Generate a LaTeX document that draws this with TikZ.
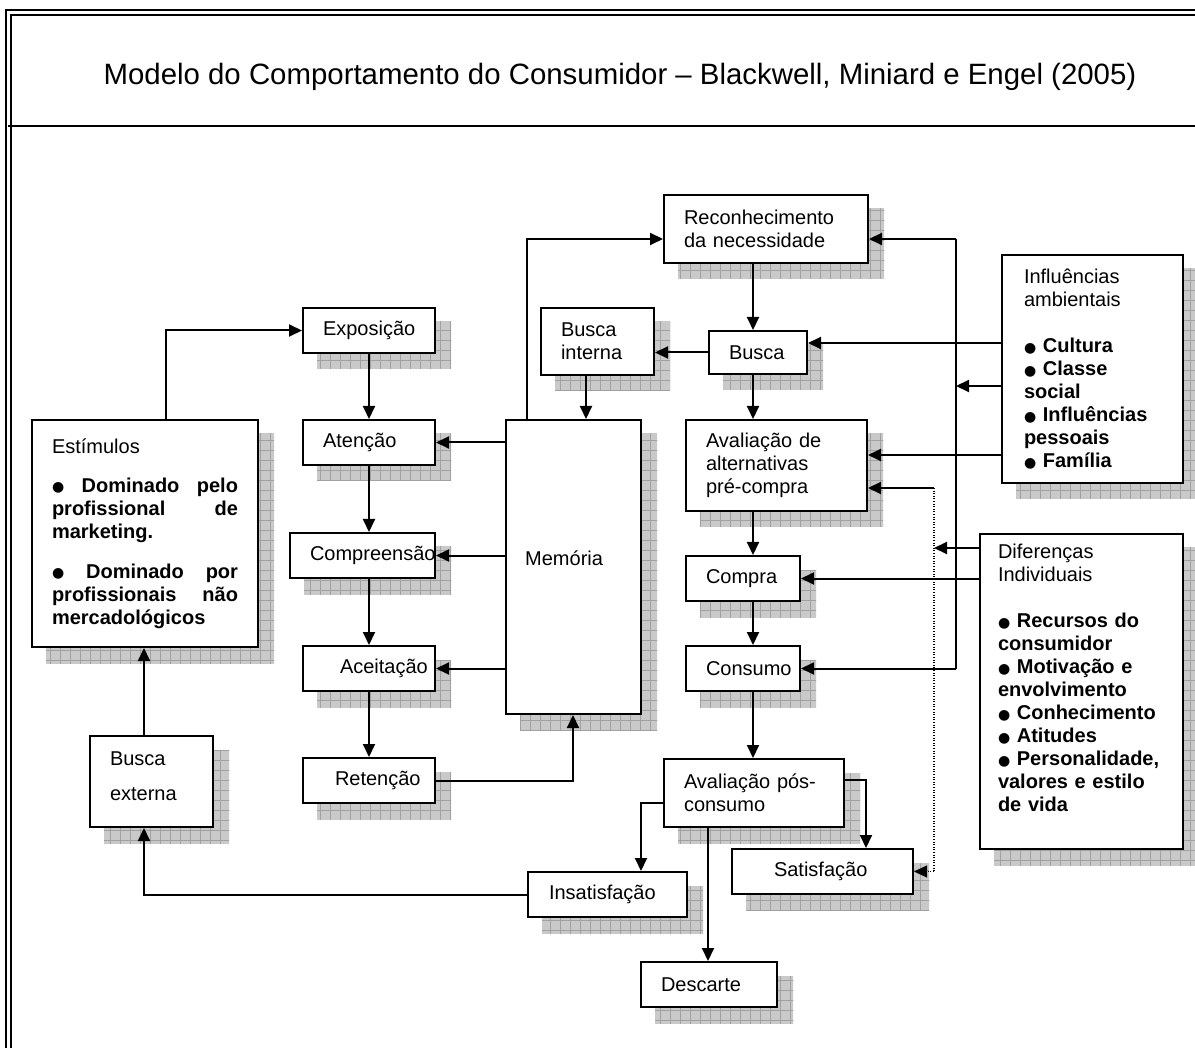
\documentclass[tikz,border=0pt]{standalone}
\usepackage{fontspec}
\setmainfont{Liberation Sans}
\newfontfamily\bulletfont{DejaVu Sans}
\usetikzlibrary{arrows.meta,backgrounds}
\definecolor{shadefill}{gray}{0.79}
\definecolor{shadeline}{gray}{0.63}
\newcommand{\blt}{{\bulletfont\fontsize{14}{14}\selectfont\raisebox{0.4pt}{●}}}

\tikzset{
  boxbase/.style={draw, fill=white, line width=2pt, anchor=north west,
    inner ysep=0pt, align=left, font=\fontsize{20}{23}\selectfont},
  % box={width}{height}{left indent}
  box/.code n args={3}{%
    \pgfmathsetmacro\bxw{#1-2*#3}%
    \edef\bxopts{text width=\bxw pt, minimum height=#2pt, inner xsep=#3pt}%
    \tikzset{boxbase}%
    \expandafter\tikzset\expandafter{\bxopts}},
  txt/.style={inner sep=0pt, font=\fontsize{20}{23}\selectfont},
  line/.style={line width=2pt},
  arr/.style={line width=2pt, -{Triangle[length=13pt,width=12pt]}},
  dotline/.style={line width=1.1pt, dash pattern=on 1pt off 1.6pt},
  frame/.style={line width=1.9pt}
}

\begin{document}
\begin{tikzpicture}[x=1pt,y=-1pt]
\useasboundingbox (0,0) rectangle (1195,1048);
\clip (0,0) rectangle (1195,1048);

% double frame and title band
\draw[frame] (6,10) rectangle (1230,1080);
\draw[frame] (11,15) rectangle (1225,1075);
\draw[frame] (8,126) -- (1230,126);
\node[anchor=base, inner sep=0pt, font=\fontsize{29.4}{34}\selectfont] (title) at (620,85)
  {Modelo do Comportamento do Consumidor – Blackwell, Miniard e Engel (2005)};

% boxes
\node[box={204}{68}{20}] (rec) at (663,194) {Reconhecimento\\da necessidade};
\node[box={132}{45}{20}] (exp) at (302,307) {Exposição};
\node[box={113}{67}{20}] (bint) at (540,307) {Busca\\interna};
\node[box={98}{43}{20}] (busca) at (708,330) {Busca};
\node[box={132}{45}{20}] (aten) at (302,419) {Atenção};
\node[box={135}{294}{20}] (mem) at (505,419) {};
\node[txt, anchor=west] (memtxt) at (525,558) {Memória};
\node[box={181}{91}{20}] (aval) at (685,419) {Avaliação de\\alternativas\\pré-compra};
\node[box={145}{45}{20}] (comp) at (289,532) {Compreensão};
\node[box={114}{45}{20}] (compra) at (685,555) {Compra};
\node[box={132}{45}{37}] (acei) at (302,645) {Aceitação};
\node[box={114}{45}{20}] (cons) at (685,645) {Consumo};
\node[box={132}{45}{32}] (ret) at (302,757) {Retenção};
\node[box={180}{68}{20}] (apos) at (663,758) {Avaliação pós-\\consumo};
\node[box={181}{45}{42}] (sat) at (731,848) {Satisfação};
\node[box={159}{45}{21}] (insat) at (527,871) {Insatisfação};
\node[box={136}{45}{20}] (desc) at (640,961) {Descarte};
\node[box={226}{227}{20}, align=justify] (est) at (31,419)
  {Estímulos\par\vspace{16pt}%
   \blt\ \textbf{Dominado pelo profissional de marketing.}\par\vspace{17pt}%
   \blt\ \textbf{Dominado por profissionais não mercadológicos}\par\vspace{8pt}};
\node[box={123}{91}{20}] (bext) at (89,735) {Busca\\[12pt]externa\\[-20pt]\strut};
\node[box={181}{228}{22}] (infl) at (1001,254)
  {Influências\\ambientais\\[23pt]
   \blt\ \textbf{Cultura}\\\blt\ \textbf{Classe}\\\textbf{social}\\
   \blt\ \textbf{Influências}\\\textbf{pessoais}\\\blt\ \textbf{Família}};
\node[box={203}{315}{18}] (dif) at (979,533)
  {Diferenças\\Individuais\\[23pt]
   \blt\ \textbf{Recursos do}\\\textbf{consumidor}\\\blt\ \textbf{Motivação e}\\
   \textbf{envolvimento}\\\blt\ \textbf{Conhecimento}\\\blt\ \textbf{Atitudes}\\
   \blt\ \textbf{Personalidade,}\\\textbf{valores e estilo}\\\textbf{de vida}\\[-3pt]\strut};

% hatched drop shadows behind every box
\begin{scope}[on background layer]
\foreach \n in {rec,exp,bint,busca,aten,mem,aval,comp,compra,acei,cons,ret,
                apos,sat,insat,desc,est,bext,infl,dif}{
  \begin{scope}
    \clip ([shift={(15,15)}]\n.north west) rectangle ([shift={(15,15)}]\n.south east);
    \fill[shadefill] (0,0) rectangle (1195,1048);
    \draw[shadeline, line width=0.7pt] (0,0) grid[step=10pt] (1200,1050);
  \end{scope}
}
\end{scope}

% routing columns and levels
\coordinate (cx) at (753,0);
\coordinate (cl) at (369,0);
\coordinate (cb) at (586,0);
\coordinate (cm) at (527,0);
\coordinate (cr) at (573,0);
\coordinate (ce) at (166,0);
\coordinate (cs) at (144,0);
\coordinate (ci) at (641,0);
\coordinate (cd) at (708,0);
\coordinate (cq) at (866,0);
\coordinate (ry) at (0,239);
\coordinate (py) at (0,803);
\coordinate (qy) at (0,780);
\coordinate (bt) at (956,239);
\coordinate (dt) at (934,488);
\coordinate (y343) at (0,343);
\coordinate (y386) at (0,386);
\coordinate (y455) at (0,455);
\coordinate (y548) at (0,548);

% decision process column
\draw[arr] (rec.south -| cx) -- (busca.north -| cx);
\draw[arr] (busca.west) -- (busca.west -| bint.east);
\draw[arr] (bint.south -| cb) -- (mem.north -| cb);
\draw[arr] (busca.south -| cx) -- (aval.north -| cx);
\draw[arr] (aval.south -| cx) -- (compra.north -| cx);
\draw[arr] (compra.south -| cx) -- (cons.north -| cx);
\draw[arr] (cons.south -| cx) -- (apos.north -| cx);
\draw[arr] (mem.north -| cm) |- (rec.west |- ry);

% information processing column
\draw[arr] (exp.south -| cl) -- (aten.north -| cl);
\draw[arr] (aten.south -| cl) -- (comp.north -| cl);
\draw[arr] (comp.south -| cl) -- (acei.north -| cl);
\draw[arr] (acei.south -| cl) -- (ret.north -| cl);
\draw[arr] (mem.west |- aten.east) -- (aten.east);
\draw[arr] (mem.west |- comp.east) -- (comp.east);
\draw[arr] (mem.west |- acei.east) -- (acei.east);
\draw[arr] (ret.east) -| (mem.south -| cr);

% stimuli loop
\draw[arr] (est.north -| ce) |- (exp.west);
\draw[arr] (bext.north -| cs) -- (est.south -| cs);
\draw[arr] (insat.west) -| (bext.south -| cs);

% post-consumption outcomes
\draw[arr] (apos.west |- py) -| (insat.north -| ci);
\draw[arr] (apos.south -| cd) -- (desc.north -| cd);
\draw[arr] (apos.east |- qy) -| (sat.north -| cq);

% environmental influences bus
\draw[line] (bt) -- (cons.east -| bt);
\draw[arr] (bt) -- (rec.east |- bt);
\draw[arr] (cons.east -| bt) -- (cons.east);
\draw[arr] (infl.west |- y386) -- (bt |- y386);
\draw[arr] (infl.west |- y343) -- (busca.east |- y343);
\draw[arr] (infl.west |- y455) -- (aval.east |- y455);

% individual differences
\draw[arr] (dif.west |- y548) -- (dt |- y548);
\draw[arr] (dif.west |- compra.east) -- (compra.east);

% satisfaction feedback
\draw[arr] (dt) -- (aval.east |- dt);
\draw[dotline] (dt) -- (dt |- sat.east);
\draw[dotline, -{Triangle[length=13pt,width=12pt]}] (dt |- sat.east) -- (sat.east);
\end{tikzpicture}
\end{document}
